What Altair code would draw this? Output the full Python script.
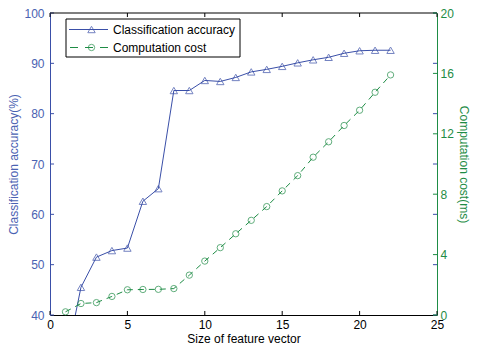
import altair as alt
import pandas as pd

# ---- data ----
sizes = list(range(1, 23))
accuracy = [30.4, 45.5, 51.5, 52.8, 53.3, 62.6, 65.1, 84.6, 84.6, 86.6, 86.4, 87.2,
            88.3, 88.8, 89.4, 90.1, 90.7, 91.2, 92.0, 92.5, 92.6, 92.6]
cost = [0.21, 0.76, 0.82, 1.23, 1.67, 1.69, 1.70, 1.75, 2.64, 3.57, 4.46, 5.38,
        6.27, 7.18, 8.22, 9.23, 10.45, 11.47, 12.55, 13.56, 14.75, 15.90]
x_ticks = [0, 5, 10, 15, 20, 25]
acc_ticks = [40, 50, 60, 70, 80, 90, 100]
cost_ticks = [0, 4, 8, 12, 16, 20]
legend_labels = ["Classification accuracy", "Computation cost"]

BLUE = "#3a4fa8"
BLUE_T = "#4a62b2"
GREEN = "#1e8c45"
FONT = "Liberation Sans"
X_TITLE = "Size of feature vector"
Y1_TITLE = "Classification accuracy(%)"
Y2_TITLE = "Computation cost(ms)"

df = pd.DataFrame({"size": sizes, "acc": accuracy, "cost": cost})
xt = pd.DataFrame({"size": x_ticks, "lo": 40.0, "hi": 40.8, "tlo": 99.2, "thi": 100.0})
yt = pd.DataFrame({"acc": acc_ticks, "a": 0.0, "b": 0.26, "c": 24.74, "d": 25.0})
ct = pd.DataFrame({"cost": cost_ticks, "c": 24.74, "d": 25.0})
top = pd.DataFrame({"a": [0], "b": [25], "y": [100]})
one = pd.DataFrame({"k": [0]})

xscale = alt.Scale(domain=[0, 25], nice=False, zero=False)
accscale = alt.Scale(domain=[40, 100], nice=False, zero=False)
costscale = alt.Scale(domain=[0, 20], nice=False, zero=False)

x_axis = alt.Axis(values=x_ticks, ticks=False, grid=False, domainColor="black",
                  domainWidth=1, labelColor="black", labelFont=FONT, labelFontSize=12,
                  labelPadding=4, labelFlush=False, labelOverlap=False, format="d",
                  titleFont=FONT, titleFontSize=12, titleFontWeight="normal",
                  titleColor="black", titlePadding=3)
y1_axis = alt.Axis(orient="left", values=acc_ticks, ticks=False, grid=False,
                   domainColor=BLUE, domainWidth=1, labelColor=BLUE_T, labelFont=FONT,
                   labelFontSize=12, labelPadding=6, labelFlush=False, labelOverlap=False,
                   titleFont=FONT, titleFontSize=12, titleFontWeight="normal",
                   titleColor=BLUE_T, titlePadding=3, format="d")
y2_axis = alt.Axis(orient="right", values=cost_ticks, ticks=False, grid=False,
                   domainColor=GREEN, domainWidth=1, labelColor=GREEN, labelFont=FONT,
                   labelFontSize=12, labelPadding=3, labelFlush=False, labelOverlap=False,
                   titleFont=FONT, titleFontSize=12, titleFontWeight="normal",
                   titleColor=GREEN, titlePadding=3, format="d")


def X(field):
    return alt.X(field, type="quantitative", scale=xscale, axis=x_axis, title=X_TITLE)


def Y1(field):
    return alt.Y(field, type="quantitative", scale=accscale, axis=y1_axis, title=Y1_TITLE)


def Y2(field):
    return alt.Y(field, type="quantitative", scale=costscale, axis=y2_axis, title=Y2_TITLE)


acc_line = alt.Chart(df).mark_line(color=BLUE, strokeWidth=1, clip=True).encode(
    x=X("size"), y=Y1("acc"))
acc_pts = alt.Chart(df).mark_point(shape="triangle-up", filled=False, color=BLUE,
                                   size=55, strokeWidth=1, clip=True).encode(
    x=X("size"), y=Y1("acc"))
xt_bot = alt.Chart(xt).mark_rule(color="black", strokeWidth=1).encode(
    x=X("size"), y=Y1("lo"), y2="hi")
xt_top = alt.Chart(xt).mark_rule(color="black", strokeWidth=1).encode(
    x=X("size"), y=Y1("tlo"), y2="thi")
yt_left = alt.Chart(yt).mark_rule(color=BLUE, strokeWidth=1).encode(
    y=Y1("acc"), x=X("a"), x2="b")
yt_right = alt.Chart(yt).mark_rule(color=BLUE, strokeWidth=1).encode(
    y=Y1("acc"), x=X("c"), x2="d")
top_line = alt.Chart(top).mark_rule(color="black", strokeWidth=1).encode(
    y=Y1("y"), x=X("a"), x2="b")

acc_layer = alt.layer(acc_line, acc_pts, xt_bot, xt_top, yt_left, yt_right, top_line)

cost_line = alt.Chart(df).mark_line(color=GREEN, strokeWidth=1, strokeDash=[6, 5]).encode(
    x=X("size"), y=Y2("cost"))
cost_pts = alt.Chart(df).mark_point(shape="circle", filled=False, color=GREEN,
                                    size=40, strokeWidth=1).encode(
    x=X("size"), y=Y2("cost"))
ct_right = alt.Chart(ct).mark_rule(color=GREEN, strokeWidth=1).encode(
    y=Y2("cost"), x=X("c"), x2="d")

cost_layer = alt.layer(cost_line, cost_pts, ct_right)

# ---- legend box (drawn in pixel space) ----
lg_box = alt.Chart(one).mark_rect(fill="white", stroke="black", strokeWidth=1).encode(
    x=alt.value(16), x2=alt.value(190), y=alt.value(6), y2=alt.value(44))
lg_l1 = alt.Chart(one).mark_rule(color=BLUE, strokeWidth=1).encode(
    x=alt.value(19), x2=alt.value(58), y=alt.value(16.5))
lg_p1 = alt.Chart(one).mark_point(shape="triangle-up", filled=False, color=BLUE,
                                  size=55, strokeWidth=1).encode(
    x=alt.value(41.5), y=alt.value(16.5))
lg_l2 = alt.Chart(one).mark_rule(color=GREEN, strokeWidth=1, strokeDash=[8, 7]).encode(
    x=alt.value(20), x2=alt.value(58), y=alt.value(34.5))
lg_p2 = alt.Chart(one).mark_point(shape="circle", filled=False, color=GREEN,
                                  size=40, strokeWidth=1).encode(
    x=alt.value(41.5), y=alt.value(34.5))
lg_t1 = alt.Chart(one).mark_text(align="left", baseline="middle", font=FONT,
                                 fontSize=12, color="black", text=legend_labels[0]).encode(
    x=alt.value(63), y=alt.value(16.5))
lg_t2 = alt.Chart(one).mark_text(align="left", baseline="middle", font=FONT,
                                 fontSize=12, color="black", text=legend_labels[1]).encode(
    x=alt.value(63), y=alt.value(34.5))

chart = alt.layer(
    acc_layer, cost_layer, lg_box, lg_l1, lg_p1, lg_l2, lg_p2, lg_t1, lg_t2
).resolve_scale(y="independent").properties(
    width=387, height=302,
    padding={"left": 42, "top": 5, "right": 34, "bottom": 29},
    autosize=alt.AutoSizeParams(type="none"),
    background="white",
).configure_view(stroke=None)

chart.save("out.html", embed_options={"renderer": "svg", "actions": False})
